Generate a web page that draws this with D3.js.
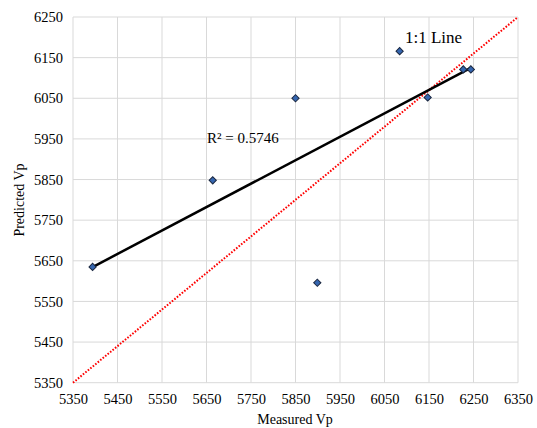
<!DOCTYPE html>
<html>
<head>
<meta charset="utf-8">
<script src="https://cdn.jsdelivr.net/npm/d3@7"></script>
<style>
  body { margin: 0; background: #fff; }
  svg text { font-family: "Liberation Serif", "Times New Roman", serif; fill: #000; }
</style>
</head>
<body>
<svg id="chart" width="537" height="428"></svg>
<script>
'use strict';

// measured vs predicted Vp
var measured = [5394, 5664, 5850, 5899, 6084, 6147, 6227, 6244];
var predicted = [5635, 5848, 6050, 5596, 6166, 6052, 6121, 6121];
var xTicks = [5350, 5450, 5550, 5650, 5750, 5850, 5950, 6050, 6150, 6250, 6350];
var yTicks = [5350, 5450, 5550, 5650, 5750, 5850, 5950, 6050, 6150, 6250];
// the "1:1" line as drawn runs corner to corner
var refX = [5350, 6350];
var refY = [5350, 6250];
var r2Label = 'R\u00b2 = 0.5746';

// plot area edges (window.top is taken, hence the names)
var plotL = 73, plotR = 518, plotT = 17, plotB = 382.7;

var x = d3.scaleLinear().domain([5350, 6350]).range([plotL, plotR]);
var y = d3.scaleLinear().domain([5350, 6250]).range([plotB, plotT]);

var svg = d3.select('#chart');

// grid
svg.append('g').selectAll('line').data(xTicks).enter().append('line')
  .attr('x1', function(d) { return x(d); }).attr('x2', function(d) { return x(d); })
  .attr('y1', plotT).attr('y2', plotB)
  .attr('stroke', '#d9d9d9').attr('stroke-width', 1);
svg.append('g').selectAll('line').data(yTicks).enter().append('line')
  .attr('y1', function(d) { return y(d); }).attr('y2', function(d) { return y(d); })
  .attr('x1', plotL).attr('x2', plotR)
  .attr('stroke', '#d9d9d9').attr('stroke-width', 1);

// axes (labels only, Excel style)
var xAxis = svg.append('g')
  .attr('transform', 'translate(0,' + plotB + ')')
  .call(d3.axisBottom(x).tickValues(xTicks).tickSize(0).tickPadding(11).tickFormat(d3.format('d')));
var yAxis = svg.append('g')
  .attr('transform', 'translate(' + plotL + ',0)')
  .call(d3.axisLeft(y).tickValues(yTicks).tickSize(0).tickPadding(10).tickFormat(d3.format('d')));
[xAxis, yAxis].forEach(function(a) {
  a.select('.domain').remove();
  a.selectAll('text').style('font-size', '14.5px').style('font-family', '"Liberation Serif", serif').attr('fill', '#1a1a1a');
});

// 1:1 line
svg.append('line')
  .attr('x1', x(refX[0])).attr('y1', y(refY[0]))
  .attr('x2', x(refX[1])).attr('y2', y(refY[1]))
  .attr('stroke', '#ff0000').attr('stroke-width', 2)
  .attr('stroke-dasharray', '1.6,1.6');

// linear trendline through the data
var mx = d3.mean(measured), my = d3.mean(predicted);
var sxy = d3.sum(measured, function(v, i) { return (v - mx) * (predicted[i] - my); });
var sxx = d3.sum(measured, function(v) { return (v - mx) * (v - mx); });
var slope = sxy / sxx, icpt = my - slope * mx;
var ext = d3.extent(measured);
svg.append('line')
  .attr('x1', x(ext[0])).attr('y1', y(icpt + slope * ext[0]))
  .attr('x2', x(ext[1])).attr('y2', y(icpt + slope * ext[1]))
  .attr('stroke', '#000').attr('stroke-width', 2.5);

// points: square turned 45deg, like Excel's diamond marker
var marker = d3.symbol().type(d3.symbolSquare).size(26);
svg.append('g').selectAll('path').data(measured).enter().append('path')
  .attr('d', marker)
  .attr('transform', function(d, i) { return 'translate(' + x(d) + ',' + y(predicted[i]) + ') rotate(45)'; })
  .attr('fill', '#3566b0').attr('stroke', '#1a2740').attr('stroke-width', 1);

// annotations
svg.append('text').attr('x', 207).attr('y', 143).style('font-size', '15px').text(r2Label);
svg.append('text').attr('x', 405).attr('y', 43).style('font-size', '17px').text('1:1 Line');

// axis titles
svg.append('text').attr('x', 295).attr('y', 424).attr('text-anchor', 'middle')
  .style('font-size', '14px').text('Measured Vp');
svg.append('text').attr('transform', 'translate(24,200) rotate(-90)').attr('text-anchor', 'middle')
  .style('font-size', '14px').text('Predicted Vp');
</script>
</body>
</html>
